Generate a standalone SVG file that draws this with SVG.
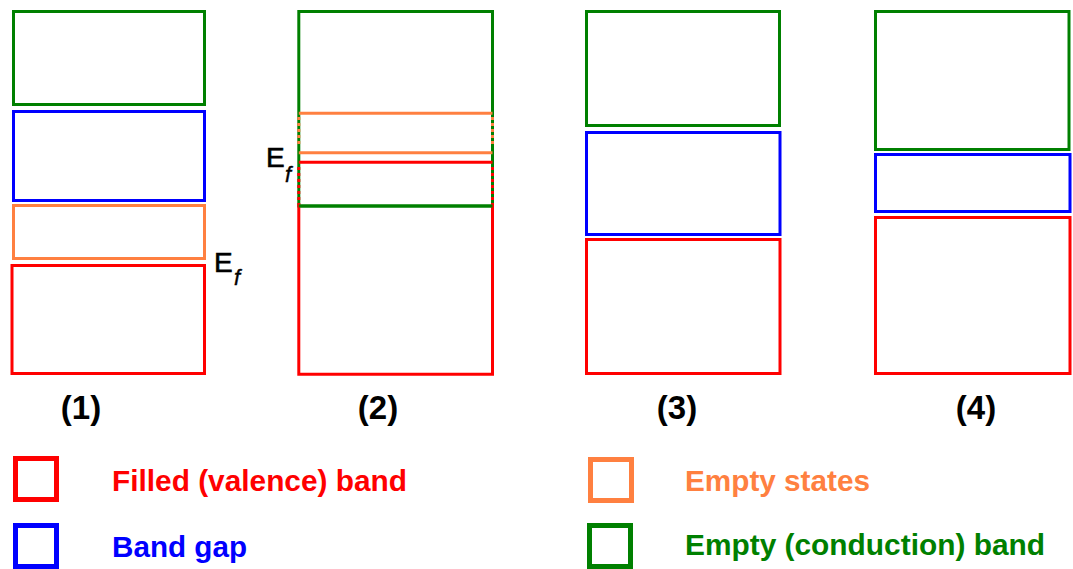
<svg xmlns="http://www.w3.org/2000/svg" width="1073" height="569" viewBox="0 0 1073 569">
<style>
.b{fill:none;stroke-width:3}
.g{stroke:#008000}.r{stroke:#ff0000}.u{stroke:#0000ff}.o{stroke:#ff8040}
.d{stroke-dasharray:3 3}
.lg{fill:none;stroke-width:5}
.t{font-family:"Liberation Sans",Arial,sans-serif;font-weight:bold;font-size:30px}
.n{font-family:"Liberation Sans",Arial,sans-serif;font-weight:bold;font-size:33px;text-anchor:middle;fill:#000}
.e{font-family:"Liberation Sans",Arial,sans-serif;font-size:28px;fill:#000;stroke:#000;stroke-width:0.6}
.f{font-family:"Liberation Sans",Arial,sans-serif;font-style:italic;font-size:22px;fill:#000;stroke:#000;stroke-width:0.4}
</style>
<rect width="1073" height="569" fill="#fff"/>
<g id="panel1">
<rect class="b g" x="13.5" y="11.5" width="191" height="93"/>
<rect class="b u" x="13.5" y="111.5" width="191" height="89"/>
<rect class="b o" x="13.5" y="205.5" width="191" height="53"/>
<rect class="b r" x="12" y="265.5" width="192.5" height="108"/>
<text class="e" x="214" y="272">E</text><text class="f" x="234" y="285">f</text>
<text class="n" x="81" y="419">(1)</text>
</g>
<g id="panel2">
<rect class="b g" x="298.8" y="11.5" width="193.7" height="194.5"/>
<line class="b o" x1="298.8" y1="113.3" x2="492.5" y2="113.3"/>
<line class="b o" x1="298.8" y1="152.7" x2="492.5" y2="152.7"/>
<line class="b r" x1="298.8" y1="162.3" x2="492.5" y2="162.3"/>
<line class="b o d" x1="298.8" y1="117" x2="298.8" y2="146"/>
<line class="b o d" x1="492.5" y1="117" x2="492.5" y2="146"/>
<line class="b r d" x1="298.8" y1="167" x2="298.8" y2="205"/>
<line class="b r d" x1="492.5" y1="167" x2="492.5" y2="205"/>
<polyline class="b r" points="298.8,205 298.8,374.2 492.5,374.2 492.5,205"/>
<line class="b g" x1="298.8" y1="206" x2="492.5" y2="206"/>
<text class="e" x="266" y="167">E</text><text class="f" x="285" y="182">f</text>
<text class="n" x="378" y="419">(2)</text>
</g>
<g id="panel3">
<rect class="b g" x="586.5" y="11.5" width="193" height="114"/>
<rect class="b u" x="586.5" y="132.5" width="193.5" height="102"/>
<rect class="b r" x="586.5" y="239.5" width="193.5" height="134"/>
<text class="n" x="677" y="419">(3)</text>
</g>
<g id="panel4">
<rect class="b g" x="875.5" y="11.5" width="193.5" height="138"/>
<rect class="b u" x="875.5" y="154.5" width="194.5" height="57"/>
<rect class="b r" x="875.5" y="217.5" width="194.5" height="156"/>
<text class="n" x="976" y="419">(4)</text>
</g>
<g id="legend">
<rect class="lg r" x="15.5" y="458.5" width="41" height="41"/>
<text class="t" x="112" y="491" fill="#ff0000" textLength="295" lengthAdjust="spacingAndGlyphs">Filled (valence) band</text>
<rect class="lg u" x="15.5" y="525.5" width="41" height="41"/>
<text class="t" x="112" y="557" fill="#0000ff" textLength="135" lengthAdjust="spacingAndGlyphs">Band gap</text>
<rect class="lg o" x="590.5" y="459.5" width="41" height="41"/>
<text class="t" x="685" y="491" fill="#ff8040" textLength="185" lengthAdjust="spacingAndGlyphs">Empty states</text>
<rect class="lg g" x="589.5" y="525.5" width="41" height="41"/>
<text class="t" x="685" y="555" fill="#008000" textLength="360" lengthAdjust="spacingAndGlyphs">Empty (conduction) band</text>
</g>
</svg>
